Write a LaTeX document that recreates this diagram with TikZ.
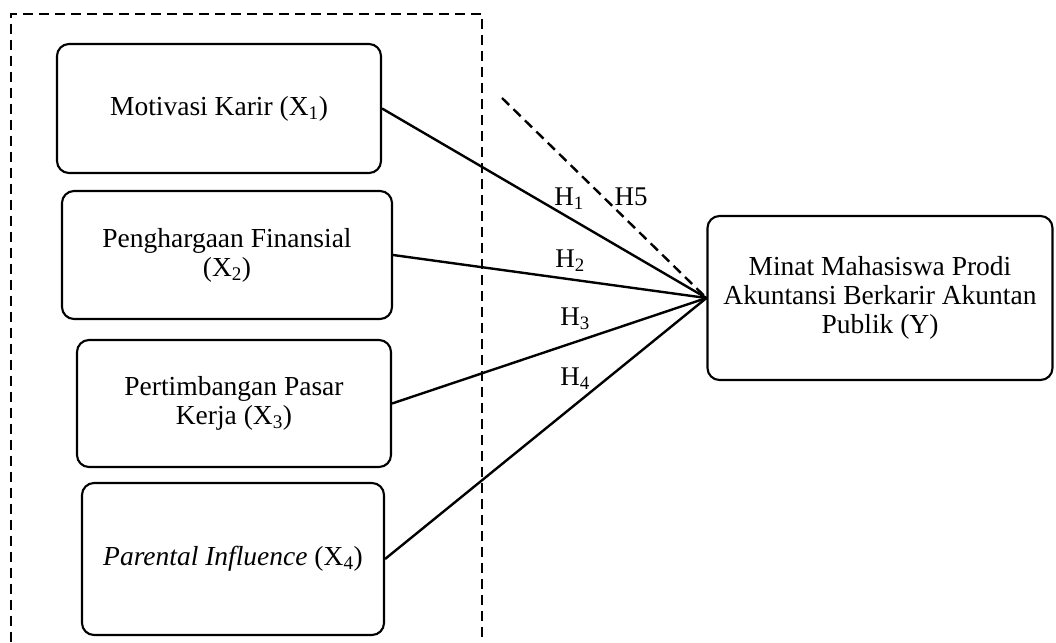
\documentclass[tikz,border=0pt]{standalone}
\usepackage{fontspec}
\setmainfont{Liberation Serif}
\begin{document}
\begin{tikzpicture}[x=1pt,y=-1pt,
  varbox/.style={draw, line width=2.1pt, rounded corners=12pt, align=center, inner sep=0pt},
  link/.style={line width=2.4pt},
  hlabel/.style={inner sep=0pt, font=\fontsize{27}{29}\selectfont},
  every node/.append style={font=\fontsize{27.5}{29}\selectfont}]
\useasboundingbox (0,0) rectangle (1056,642);
% dashed frame
\draw[line width=2.8pt, dash pattern=on 10pt off 6pt] (11,642) -- (11,14) -- (482,14) -- (482,642);
% boxes
\node[varbox, minimum width=324pt, minimum height=129pt] (x1) at (219,108.5) {Motivasi Karir (X\textsubscript{1})};
\node[varbox, minimum width=330pt, minimum height=128pt] (x2) at (227,255) {Penghargaan Finansial\\(X\textsubscript{2})};
\node[varbox, minimum width=314pt, minimum height=127pt] (x3) at (234,403.5) {Pertimbangan Pasar\\Kerja (X\textsubscript{3})};
\node[varbox, minimum width=302pt, minimum height=152pt] (x4) at (233,559) {\textit{Parental Influence} (X\textsubscript{4})};
\node[varbox, minimum width=345pt, minimum height=164pt] (y) at (880,298) {Minat Mahasiswa Prodi\\Akuntansi Berkarir Akuntan\\Publik (Y)};
% connectors
\coordinate (h5start) at (502,98);
\draw[link] (x1.east) -- (y.west);
\draw[link] (x2.east) -- (y.west);
\draw[link] (x3.east) -- (y.west);
\draw[link] (x4.east) -- (y.west);
\draw[line width=2.4pt, dash pattern=on 10pt off 6pt] (h5start) -- (y.west);
% labels
\node[hlabel] (l1) at (569,199) {H\textsubscript{1}};
\node[hlabel] (l5) at (631,197) {H5};
\node[hlabel] (l2) at (570,261) {H\textsubscript{2}};
\node[hlabel] (l3) at (575,319) {H\textsubscript{3}};
\node[hlabel] (l4) at (575,379) {H\textsubscript{4}};
\end{tikzpicture}
\end{document}
